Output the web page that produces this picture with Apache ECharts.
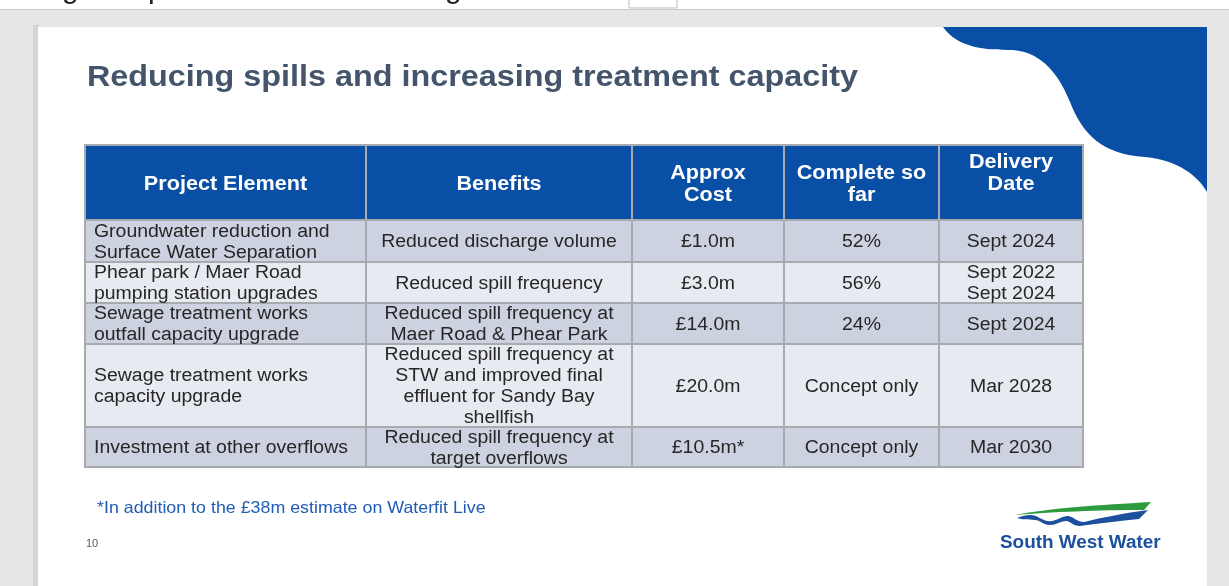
<!DOCTYPE html>
<html>
<head>
<meta charset="utf-8">
<script src="https://cdn.jsdelivr.net/npm/echarts@6/dist/echarts.min.js"></script>
<style>html,body{margin:0;padding:0;background:#e6e6e6;}#chart{width:1229px;height:586px;}</style>
</head>
<body>
<div id="chart"></div>
<script>
// ---------- DATA ----------
const title = 'Reducing spills and increasing treatment capacity';
const columnHeaders = ['Project Element', 'Benefits', 'Approx\nCost', 'Complete so\nfar', 'Delivery\nDate'];
const projectElements = [
  'Groundwater reduction and\nSurface Water Separation',
  'Phear park / Maer Road\npumping station upgrades',
  'Sewage treatment works\noutfall capacity upgrade',
  'Sewage treatment works\ncapacity upgrade',
  'Investment at other overflows'
];
const benefits = [
  'Reduced discharge volume',
  'Reduced spill frequency',
  'Reduced spill frequency at\nMaer Road & Phear Park',
  'Reduced spill frequency at\nSTW and improved final\neffluent for Sandy Bay\nshellfish',
  'Reduced spill frequency at\ntarget overflows'
];
const approxCost = ['£1.0m', '£3.0m', '£14.0m', '£20.0m', '£10.5m*'];
const completeSoFar = ['52%', '56%', '24%', 'Concept only', 'Concept only'];
const deliveryDates = ['Sept 2024', 'Sept 2022\nSept 2024', 'Sept 2024', 'Mar 2028', 'Mar 2030'];
const footnote = '*In addition to the £38m estimate on Waterfit Live';
const pageNumber = '10';
const logoText = 'South West Water';

// ---------- LAYOUT ----------
const colEdges = [0, 281, 547, 699, 854, 998];
const rowEdges = [0, 75, 117, 158, 199, 282, 322];
const headerOffsets = [0, 0, 0, 0, -11];
const FONT = '"Liberation Sans", Arial, Helvetica, sans-serif';
const SX = 1.08;

const bodyColumns = [projectElements, benefits, approxCost, completeSoFar, deliveryDates];
const cells = [];
columnHeaders.forEach((t, c) => cells.push({ c, r: 0, text: t }));
for (let r = 0; r < projectElements.length; r++) {
  bodyColumns.forEach((col, c) => cells.push({ c, r: r + 1, text: col[r] }));
}
const seriesData = cells.map(d => [colEdges[d.c], rowEdges[d.r], colEdges[d.c + 1], rowEdges[d.r + 1]]);

const chart = echarts.init(document.getElementById('chart'), null, { renderer: 'canvas' });

function cellBox(api) {
  const p0 = api.coord([api.value(0), api.value(1)]);
  const p1 = api.coord([api.value(2), api.value(3)]);
  return { x: p0[0], y: p0[1], w: p1[0] - p0[0], h: p1[1] - p0[1] };
}

function renderCell(params, api) {
  const d = cells[params.dataIndex];
  const b = cellBox(api);
  const fill = d.r === 0 ? '#0a4fa6' : (d.r % 2 === 1 ? '#cdd2e1' : '#e8eaf1');
  return { type: 'rect', shape: { x: b.x, y: b.y, width: b.w, height: b.h },
    style: { fill, stroke: '#a7abaf', lineWidth: 2 } };
}

function renderText(params, api) {
  const d = cells[params.dataIndex];
  const b = cellBox(api);
  const isHeader = d.r === 0;
  const leftAlign = !isHeader && d.c === 0;
  const tx = leftAlign ? b.x + 9 : b.x + b.w / 2;
  const ty = b.y + b.h / 2 + 1.5 + (isHeader ? headerOffsets[d.c] : 0);
  return { type: 'text', x: tx, y: ty, scaleX: SX, scaleY: 1, originX: 0, originY: 0,
    style: {
      x: 0, y: 0, text: d.text,
      fill: isHeader ? '#ffffff' : '#262626',
      fontFamily: FONT,
      fontSize: isHeader ? 20 : 18,
      fontWeight: isHeader ? 'bold' : 'normal',
      lineHeight: isHeader ? 22 : 21,
      align: leftAlign ? 'left' : 'center',
      verticalAlign: 'middle'
    } };
}

// decorative shapes (slide artwork, not data)
const decoPaths = [
  { d: 'M943,27 C958,48 985,50 1013,50 C1042,52 1060,76 1070,102 C1083,135 1102,154 1145,157 C1178,160 1198,176 1207,192 L1207,27 Z', fill: '#0a4fa6' },
  { d: 'M1015,515 C1050,508 1100,505 1151,502 L1144,510 C1100,510 1050,512 1015,515 Z', fill: '#2e9a3e' },
  { d: 'M1017,518 C1025,515 1030,514 1036,516 C1042,519 1046,522 1052,521 C1058,520 1062,516 1068,516 C1074,517 1077,522 1084,522 C1100,518 1125,513 1148,510 L1139,519 C1120,521 1100,523 1080,526 C1073,526 1070,521 1066,521 C1060,521 1057,525 1050,525 C1043,525 1040,520 1035,520 C1028,519 1022,520 1017,518 Z', fill: '#1c4f9d' }
];

const graphics = [
  { type: 'rect', shape: { x: 0, y: 0, width: 1229, height: 9 }, style: { fill: '#ffffff' }, z: 0 },
  { type: 'text', x: 62, y: -25, style: { text: 'g', font: '30px ' + FONT, fill: '#222' }, z: 0 },
  { type: 'text', x: 148, y: -25, style: { text: 'p', font: '30px ' + FONT, fill: '#222' }, z: 0 },
  { type: 'text', x: 445, y: -25, style: { text: 'g', font: '30px ' + FONT, fill: '#222' }, z: 0 },
  { type: 'rect', shape: { x: 629, y: -2, width: 48, height: 10 }, style: { fill: '#fff', stroke: '#bdbdbd', lineWidth: 1 }, z: 0 },
  { type: 'rect', shape: { x: 0, y: 9, width: 1229, height: 1 }, style: { fill: '#c9c9c9' }, z: 0 },
  { type: 'rect', shape: { x: 33, y: 25, width: 6, height: 561 }, style: { fill: '#d4d4d4' }, z: 0 },
  { type: 'rect', shape: { x: 38, y: 27, width: 1169, height: 559 }, style: { fill: '#ffffff' }, z: 0 },
  { type: 'text', x: 87, y: 78, scaleX: 1.115, originX: 0, originY: 0,
    style: { text: title, fontFamily: FONT, fontSize: 29, fontWeight: 'bold', fill: '#44546a', verticalAlign: 'middle' }, z: 10 },
  { type: 'text', x: 97, y: 508, scaleX: SX, originX: 0, originY: 0,
    style: { text: footnote, fontFamily: FONT, fontSize: 16.5, fill: '#1f5cb6', verticalAlign: 'middle' }, z: 10 },
  { type: 'text', x: 86, y: 544, style: { text: pageNumber, fontFamily: FONT, fontSize: 11, fill: '#555', verticalAlign: 'middle' }, z: 10 },
  { type: 'text', x: 1000, y: 543, scaleX: SX, originX: 0, originY: 0,
    style: { text: logoText, fontFamily: FONT, fontSize: 17.5, fontWeight: 'bold', fill: '#1c4f9d', verticalAlign: 'middle' }, z: 10 }
];

chart.setOption({
  backgroundColor: '#e6e6e6',
  animation: false,
  graphic: { elements: graphics },
  grid: { left: 85, top: 145, width: 998, height: 322, containLabel: false },
  xAxis: { type: 'value', min: 0, max: 998, show: false },
  yAxis: { type: 'value', min: 0, max: 322, inverse: true, show: false },
  series: [
    {
      type: 'custom',
      coordinateSystem: 'none',
      z: 1,
      silent: true,
      data: [0],
      renderItem: function () {
        return {
          type: 'group',
          children: decoPaths.map(p => ({ type: 'path', shape: { pathData: p.d }, style: { fill: p.fill } }))
        };
      }
    },
    { type: 'custom', renderItem: renderCell, data: seriesData, z: 5, silent: true },
    { type: 'custom', renderItem: renderText, data: seriesData, z: 6, silent: true }
  ]
});
</script>
</body>
</html>
